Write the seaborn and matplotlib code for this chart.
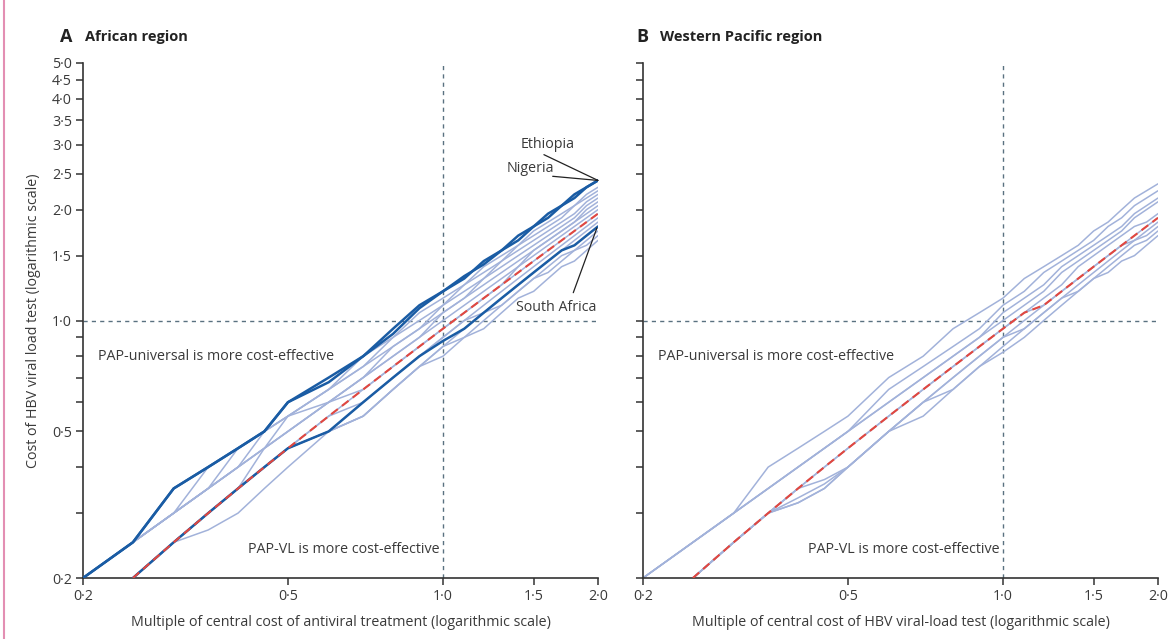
import numpy as np
import pandas as pd
import matplotlib.pyplot as plt
import seaborn as sns
from matplotlib.ticker import FixedLocator, FixedFormatter, NullLocator
from matplotlib.lines import Line2D

sns.set_style("ticks")
plt.rcParams['font.family'] = ['Open Sans', 'DejaVu Sans']

nan = np.nan

# x grid: multiple of central cost (log scale)
x_vals = [0.2, 0.25, 0.3, 0.35, 0.4, 0.45, 0.5, 0.6, 0.7, 0.8, 0.9,
          1.0, 1.1, 1.2, 1.3, 1.4, 1.5, 1.6, 1.7, 1.8, 1.9, 2.0]

# ---- African region: threshold cost of HBV viral load test ----
ethiopia = [0.2, 0.25, 0.35, 0.4, 0.45, 0.5, 0.6, 0.68, 0.8, 0.92, 1.08,
            1.2, 1.32, 1.42, 1.55, 1.7, 1.8, 1.9, 2.05, 2.15, 2.3, 2.4]
nigeria = [0.2, 0.25, 0.35, 0.4, 0.45, 0.5, 0.6, 0.7, 0.8, 0.95, 1.1,
           1.2, 1.3, 1.45, 1.55, 1.65, 1.8, 1.95, 2.05, 2.2, 2.3, 2.4]
south_africa = [nan, 0.2, 0.25, 0.3, 0.35, 0.4, 0.45, 0.5, 0.6, 0.7, 0.8,
                0.88, 0.95, 1.05, 1.15, 1.25, 1.35, 1.45, 1.55, 1.6, 1.7, 1.8]
afr_region = [nan, 0.2, 0.25, 0.3, 0.35, 0.4, 0.45, 0.55, 0.65, 0.75, 0.85,
              0.95, 1.05, 1.15, 1.25, 1.35, 1.45, 1.55, 1.65, 1.75, 1.85, 1.95]
afr_other = {
    'a1': [0.2, 0.25, 0.3, 0.4, 0.45, 0.5, 0.55, 0.65, 0.8, 0.9, 1.05,
           1.15, 1.25, 1.4, 1.5, 1.6, 1.75, 1.85, 1.95, 2.05, 2.2, 2.3],
    'a2': [0.2, 0.25, 0.3, 0.35, 0.45, 0.5, 0.55, 0.65, 0.75, 0.9, 1.0,
           1.1, 1.25, 1.35, 1.45, 1.6, 1.7, 1.8, 1.9, 2.05, 2.15, 2.25],
    'a3': [0.2, 0.25, 0.3, 0.35, 0.4, 0.5, 0.55, 0.65, 0.75, 0.85, 0.95,
           1.1, 1.2, 1.3, 1.45, 1.55, 1.65, 1.75, 1.85, 1.95, 2.1, 2.2],
    'a4': [0.2, 0.25, 0.3, 0.35, 0.4, 0.45, 0.55, 0.6, 0.7, 0.85, 0.95,
           1.05, 1.15, 1.3, 1.4, 1.5, 1.6, 1.7, 1.8, 1.9, 2.05, 2.15],
    'a5': [0.2, 0.25, 0.3, 0.35, 0.4, 0.45, 0.5, 0.6, 0.7, 0.8, 0.9,
           1.05, 1.15, 1.25, 1.35, 1.45, 1.55, 1.65, 1.75, 1.85, 2.0, 2.1],
    'a6': [0.2, 0.25, 0.3, 0.35, 0.4, 0.45, 0.5, 0.6, 0.7, 0.8, 0.9,
           1.0, 1.1, 1.2, 1.3, 1.4, 1.55, 1.65, 1.75, 1.85, 1.95, 2.05],
    'a7': [nan, 0.2, 0.25, 0.3, 0.35, 0.45, 0.5, 0.6, 0.65, 0.75, 0.85,
           0.95, 1.05, 1.15, 1.25, 1.4, 1.5, 1.6, 1.7, 1.8, 1.9, 2.0],
    'a8': afr_region,
    'a9': [nan, 0.2, 0.25, 0.3, 0.35, 0.4, 0.45, 0.5, 0.6, 0.7, 0.8,
           0.9, 1.0, 1.1, 1.2, 1.3, 1.4, 1.5, 1.6, 1.7, 1.8, 1.9],
    'a10': [nan, 0.2, 0.25, 0.3, 0.35, 0.4, 0.45, 0.55, 0.6, 0.7, 0.8,
            0.9, 1.0, 1.05, 1.15, 1.25, 1.35, 1.45, 1.55, 1.65, 1.75, 1.85],
    'a11': [nan, 0.2, 0.25, 0.3, 0.35, 0.4, 0.45, 0.5, 0.55, 0.65, 0.75,
            0.85, 0.95, 1.05, 1.1, 1.2, 1.3, 1.4, 1.5, 1.55, 1.65, 1.75],
    'a12': [nan, 0.2, 0.25, 0.27, 0.3, 0.35, 0.4, 0.5, 0.55, 0.65, 0.75,
            0.85, 0.9, 1.0, 1.1, 1.2, 1.3, 1.35, 1.45, 1.55, 1.6, 1.7],
    'a13': [nan, 0.2, 0.25, 0.3, 0.35, 0.4, 0.45, 0.5, 0.55, 0.65, 0.75,
            0.8, 0.9, 0.95, 1.05, 1.15, 1.2, 1.3, 1.4, 1.45, 1.55, 1.65],
}

# ---- Western Pacific region ----
wpr_region = [nan, 0.2, 0.25, 0.3, 0.35, 0.4, 0.45, 0.55, 0.65, 0.75, 0.85,
              0.95, 1.05, 1.1, 1.2, 1.3, 1.4, 1.5, 1.6, 1.7, 1.8, 1.9]
wpr_other = {
    'b1': [0.2, 0.25, 0.3, 0.4, 0.45, 0.5, 0.55, 0.7, 0.8, 0.95, 1.05,
           1.15, 1.3, 1.4, 1.5, 1.6, 1.75, 1.85, 2.0, 2.15, 2.25, 2.35],
    'b2': [0.2, 0.25, 0.3, 0.35, 0.4, 0.45, 0.5, 0.65, 0.75, 0.85, 0.95,
           1.1, 1.2, 1.35, 1.45, 1.55, 1.65, 1.8, 1.9, 2.05, 2.15, 2.25],
    'b3': [0.2, 0.25, 0.3, 0.35, 0.4, 0.45, 0.5, 0.6, 0.7, 0.8, 0.9,
           1.05, 1.15, 1.25, 1.4, 1.5, 1.6, 1.7, 1.8, 1.95, 2.05, 2.15],
    'b4': [0.2, 0.25, 0.3, 0.35, 0.4, 0.45, 0.5, 0.6, 0.7, 0.8, 0.9,
           1.0, 1.1, 1.2, 1.35, 1.45, 1.55, 1.65, 1.75, 1.9, 2.0, 2.1],
    'b5': [nan, 0.2, 0.25, 0.3, 0.35, 0.4, 0.45, 0.55, 0.65, 0.75, 0.85,
           0.95, 1.05, 1.15, 1.25, 1.4, 1.5, 1.6, 1.7, 1.8, 1.85, 1.95],
    'b6': wpr_region,
    'b7': [nan, 0.2, 0.25, 0.3, 0.32, 0.35, 0.4, 0.5, 0.6, 0.7, 0.8,
           0.9, 1.0, 1.1, 1.2, 1.3, 1.4, 1.5, 1.6, 1.65, 1.75, 1.85],
    'b8': [nan, 0.2, 0.25, 0.3, 0.35, 0.37, 0.4, 0.5, 0.6, 0.7, 0.8,
           0.9, 0.95, 1.05, 1.15, 1.25, 1.35, 1.45, 1.55, 1.65, 1.7, 1.8],
    'b9': [nan, 0.2, 0.25, 0.3, 0.32, 0.35, 0.4, 0.5, 0.6, 0.65, 0.75,
           0.85, 0.95, 1.05, 1.15, 1.2, 1.3, 1.4, 1.5, 1.6, 1.65, 1.75],
    'b10': [nan, 0.2, 0.25, 0.3, 0.33, 0.36, 0.4, 0.5, 0.55, 0.65, 0.75,
            0.82, 0.9, 1.0, 1.1, 1.2, 1.3, 1.35, 1.45, 1.5, 1.6, 1.7],
}

x_ticks = [0.2, 0.5, 1.0, 1.5, 2.0]
x_labels = ['0·2', '0·5', '1·0', '1·5', '2·0']
y_ticks = [0.2, 0.3, 0.4, 0.5, 0.6, 0.7, 0.8, 0.9, 1.0,
           1.5, 2.0, 2.5, 3.0, 3.5, 4.0, 4.5, 5.0]
y_labels = ['0·2', '', '', '0·5', '', '', '', '', '1·0',
            '1·5', '2·0', '2·5', '3·0', '3·5', '4·0', '4·5', '5·0']

LIGHT = '#a2b2da'
DARK = '#1a5ca4'
RED = '#e2473f'
REF = '#5a7180'
TXT = '#3a3a3a'
FS = 10.3


def to_long(lines):
    rows = []
    for name, ys in lines.items():
        for x, y in zip(x_vals, ys):
            rows.append((name, x, y))
    return pd.DataFrame(rows, columns=['line', 'x', 'y']).dropna()


fig = plt.figure(figsize=(11.7, 6.39), dpi=100)
axA = fig.add_axes([83 / 1170, 1 - 578 / 639, 515 / 1170, 515 / 639])
axB = fig.add_axes([643 / 1170, 1 - 578 / 639, 515 / 1170, 515 / 639])

for ax, others, region in [(axA, afr_other, afr_region), (axB, wpr_other, wpr_region)]:
    ax.axhline(1.0, color=REF, lw=1, ls=(0, (3, 3)), zorder=1)
    ax.axvline(1.0, color=REF, lw=1, ls=(0, (3, 3)), zorder=1)
    sns.lineplot(data=to_long(others), x='x', y='y', units='line', estimator=None,
                 color=LIGHT, lw=1.1, ax=ax, zorder=2)
    if ax is axA:
        dark = to_long({'Ethiopia': ethiopia, 'Nigeria': nigeria, 'South Africa': south_africa})
        sns.lineplot(data=dark, x='x', y='y', units='line', estimator=None,
                     color=DARK, lw=1.8, ax=ax, zorder=3)
    reg = pd.DataFrame({'x': x_vals, 'y': region}).dropna()
    sns.lineplot(data=reg, x='x', y='y', color=RED, lw=1.5, ls=(0, (4, 2.5)), ax=ax, zorder=4)

    ax.set_xscale('log')
    ax.set_yscale('log')
    ax.set_xlim(0.2, 2.0)
    ax.set_ylim(0.2, 5.0)
    ax.xaxis.set_major_locator(FixedLocator(x_ticks))
    ax.xaxis.set_major_formatter(FixedFormatter(x_labels))
    ax.yaxis.set_major_locator(FixedLocator(y_ticks))
    ax.yaxis.set_major_formatter(FixedFormatter(y_labels if ax is axA else [''] * len(y_ticks)))
    ax.xaxis.set_minor_locator(NullLocator())
    ax.yaxis.set_minor_locator(NullLocator())
    ax.tick_params(direction='out', length=5, width=1.1, color='#333333',
                   labelsize=FS, labelcolor=TXT, pad=3)
    for s in ['top', 'right']:
        ax.spines[s].set_visible(False)
    for s in ['left', 'bottom']:
        ax.spines[s].set_linewidth(1.2)
        ax.spines[s].set_color('#333333')
    ax.set_xlabel('')
    ax.set_ylabel('')
    ax.text(0.029, 0.43, 'PAP-universal is more cost-effective', transform=ax.transAxes,
            fontsize=FS, color=TXT, va='center', ha='left')
    ax.text(0.692, 0.055, 'PAP-VL is more cost-effective', transform=ax.transAxes,
            fontsize=FS, color=TXT, va='center', ha='right')

axA.set_ylabel('Cost of HBV viral load test (logarithmic scale)', fontsize=FS, color=TXT, labelpad=8)
axA.set_xlabel('Multiple of central cost of antiviral treatment (logarithmic scale)',
               fontsize=FS, color=TXT, labelpad=8)
axB.set_xlabel('Multiple of central cost of HBV viral-load test (logarithmic scale)',
               fontsize=FS, color=TXT, labelpad=8)

# panel titles
fig.text(60 / 1170, 1 - 37 / 639, 'A', fontsize=13, fontweight='bold', color='#222222', va='center')
fig.text(85 / 1170, 1 - 37 / 639, 'African region', fontsize=10.5, fontweight='bold',
         color='#222222', va='center')
fig.text(636 / 1170, 1 - 37 / 639, 'B', fontsize=13, fontweight='bold', color='#222222', va='center')
fig.text(660 / 1170, 1 - 37 / 639, 'Western Pacific region', fontsize=10.5, fontweight='bold',
         color='#222222', va='center')

# country labels
axA.text(0.903, 0.841, 'Ethiopia', transform=axA.transAxes, fontsize=FS, color=TXT,
         ha='center', va='center')
axA.text(0.868, 0.796, 'Nigeria', transform=axA.transAxes, fontsize=FS, color=TXT,
         ha='center', va='center')
axA.text(0.918, 0.526, 'South Africa', transform=axA.transAxes, fontsize=FS, color=TXT,
         ha='center', va='center')
axA.annotate('', xy=(x_vals[-1], ethiopia[-1]), xycoords='data',
             xytext=(0.895, 0.822), textcoords='axes fraction',
             arrowprops=dict(arrowstyle='-', color='#222222', lw=0.9, shrinkA=0, shrinkB=0))
axA.annotate('', xy=(x_vals[-1], nigeria[-1]), xycoords='data',
             xytext=(0.912, 0.78), textcoords='axes fraction',
             arrowprops=dict(arrowstyle='-', color='#222222', lw=0.9, shrinkA=0, shrinkB=0))
axA.annotate('', xy=(x_vals[-1] * 0.995, south_africa[-1] * 0.99), xycoords='data',
             xytext=(0.952, 0.554), textcoords='axes fraction',
             arrowprops=dict(arrowstyle='-', color='#222222', lw=0.9, shrinkA=0, shrinkB=0))

# page border
fig.add_artist(Line2D([0.003, 0.003], [0, 1], transform=fig.transFigure, color='#e38fb3', lw=1.5))

plt.savefig('out.png', dpi=100)
